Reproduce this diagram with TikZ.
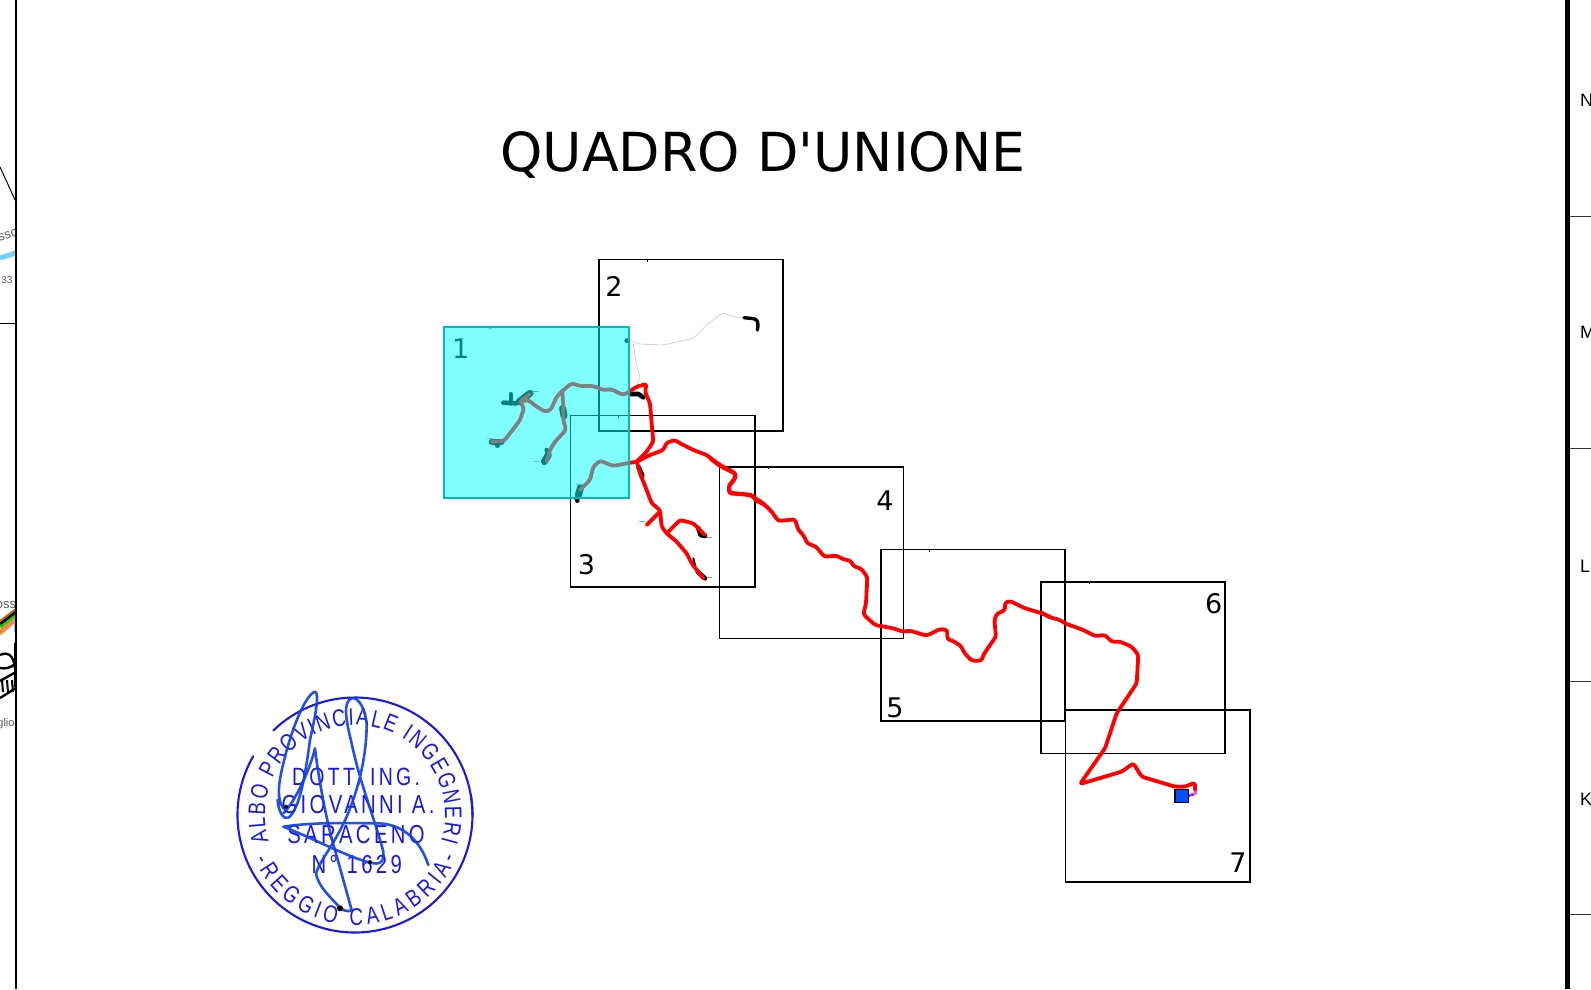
\documentclass[tikz,border=0pt]{standalone}
\usepackage{fontspec}
\setmainfont{DejaVu Sans}
\newfontfamily\plainf{DejaVu Sans}
\newfontfamily\arialf{Liberation Sans}
\newfontfamily\stampf[FakeStretch=.78]{Liberation Sans}
\newfontfamily\stampsp[FakeStretch=.78,LetterSpace=13]{Liberation Sans}
\usetikzlibrary{decorations.text}
\definecolor{stampblue}{RGB}{25,25,225}
\definecolor{signblue}{RGB}{20,65,225}
\tikzset{
  sheet/.style={draw=black,line width=1.6pt,fill=none},
  route/.style={draw={rgb,255:red,255;green,0;blue,0},line width=3.8pt,line join=round,line cap=round,rounded corners=2.5pt},
  under/.style={draw=black,line width=4.6pt,line cap=round,line join=round},
  thin trace/.style={draw=black!22,line width=.6pt,line join=round,rounded corners=2pt},
  signstroke/.style={draw=signblue,line width=2.6pt,line cap=round,line join=round,opacity=.92},
  stamp ring/.style={draw=stampblue,line width=2.1pt,line cap=round},
  stamp line/.style={text=stampblue,font=\stampsp\fontsize{26}{26}\selectfont,inner sep=0pt},
  num/.style={font=\fontsize{27}{27}\selectfont,inner sep=0pt,text=black},
  margintext/.style={font=\arialf\fontsize{13}{13}\selectfont,text=black!65,inner sep=0pt},
  gridletter/.style={font=\arialf\fontsize{18}{18}\selectfont,inner sep=0pt,anchor=west,text=black},
  z1/.style={shift={(430,250)},x=.33333pt,y=-.33333pt},
  z4/.style={shift={(1040,580)},x=.33333pt,y=-.33333pt},
  z6/.style={shift={(710,450)},x=.33333pt,y=-.33333pt},
  z2/.style={shift={(220,680)},x=.33333pt,y=-.33333pt},
}
\begin{document}
\begin{tikzpicture}[x=1pt,y=-1pt]
\useasboundingbox (0,0) rectangle (1591,989);
\fill[white] (0,0) rectangle (1591,989);
\begin{scope}
\clip (0,0) rectangle (16,989);
% left neighbouring sheet remnants
\draw[black,line width=1pt] (0,167) -- (16,202);
\draw[black,line width=1pt] (0,323) -- (16,323);
\draw[cyan!55,line width=5pt] (0,258) -- (16,253);
\node[margintext,rotate=17] (ssotxt) at (8,235) {sso};
\node[margintext,font=\arialf\fontsize{10}{10}\selectfont] (ntxt) at (7,280) {33};
\node[margintext] (osstxt) at (6,605) {oss};
\draw[orange!70!red!70,line width=3pt] (0,634) -- (16,620);
\draw[red!45!orange!70,line width=3pt] (0,631) -- (16,618);
\draw[green!85!black,line width=3pt] (0,627) -- (16,614.5);
\draw[black,line width=2.8pt] (0,624) -- (16,611.5);
\draw[orange!80!black,line width=2pt] (0,621) -- (16,609);
\draw[cyan!55,line width=1.5pt] (15,620) -- (15,632);
\draw[black,line width=2.4pt] (0,655) .. controls (8,651) and (14,656) .. (15,668);
\draw[black,line width=2.4pt] (0,668) .. controls (6,669) and (10,668) .. (15,664);
\draw[black,line width=2.4pt] (0,681) -- (16,672);
\draw[black,line width=2.4pt] (0,698) -- (16,688);
\foreach \tx in {2,7,12}{\draw[black,line width=2pt] (\tx,680) -- (\tx+1,692);}
\draw[black,line width=2pt] (15,643) -- (15,687);
\node[margintext,font=\arialf\fontsize{11}{11}\selectfont] (gliotxt) at (6,724) {glio};
\end{scope}
% frame
\draw[black,line width=1.5pt] (16,0) -- (16,989);
\draw[black,line width=4.6pt] (1567.7,0) -- (1567.7,989);
\foreach \ty in {216,448,681,914}{\draw[black!80,line width=.9pt] (1570,\ty) -- (1591,\ty);}
\node[gridletter] (gN) at (1580,100) {N};
\node[gridletter] (gM) at (1580,332) {M};
\node[gridletter] (gL) at (1580,566) {L};
\node[gridletter] (gK) at (1580,799) {K};
% title
\node[inner sep=0pt,font=\plainf\fontsize{53.8}{54}\selectfont] (title) at (763,155) {QUADRO D'UNIONE};
% sheets
\draw[sheet] (599,259.3) rectangle (783,431);
\draw[sheet] (570.3,415.3) rectangle (754.7,586.7);
\draw[sheet] (719.3,466.7) rectangle (903.3,638.3);
\draw[sheet] (881,549.3) rectangle (1065,721);
\draw[sheet] (1041,581.7) rectangle (1225,753.3);
\draw[sheet] (1065.3,710) rectangle (1249.7,881.8);
\foreach \ox/\oy in {647/259.3,618/415.3,768/466.7,929/549.3,1089/581.7,490/326.7}{\draw[black,line width=.8pt] (\ox,\oy) -- (\ox,\oy+2.5);}
\node[num] (n1) at (460.7,349) {1};
\node[num] (n2) at (614,286) {2};
\node[num] (n3) at (586.5,565) {3};
\node[num] (n4) at (885,501) {4};
\node[num] (n5) at (895,708) {5};
\node[num] (n6) at (1213.6,604) {6};
\node[num] (n7) at (1238,862.5) {7};
% network under-lays and traces
\begin{scope}[z1]
\draw[thin trace] (600,270) -- (625,282) -- (700,285) -- (790,265) -- (830,225) -- (878,188) -- (900,197) -- (940,203);
\draw[thin trace] (610,280) -- (618,340) -- (630,380) -- (622,400);
\draw[under,line width=3.4pt,rounded corners=3pt] (942,203) -- (980,207) -- (985,222) -- (982,240);
\fill[black] (590,272) circle (7);
\draw[under] (600,432) -- (625,432) -- (640,442);
\draw[under] (625,650) -- (637,677);
\draw[under] (805,835) -- (812,855) -- (825,858);
\draw[under] (803,965) -- (825,985);
\draw[under,line width=2pt] (790,925) -- (795,945);
\draw[under] (220,458) -- (260,460);
\draw[under] (243,433) -- (243,460);
\draw[under,line width=7pt] (268,455) -- (300,430);
\draw[under,line width=6pt] (185,575) -- (215,575);
\draw[under] (203,575) -- (203,587);
\draw[under,line width=7pt] (398,475) -- (402,498);
\draw[under,line width=7pt] (343,635) -- (355,615);
\draw[under] (350,600) -- (355,610);
\draw[under,line width=7pt] (445,735) -- (452,712);
\draw[under] (440,745) -- (442,752);
\foreach \gx/\gy in {310/425,172/565,310/635,438/702,627/814,830/861,830/982}
  {\draw[black!40,line width=.5pt] (\gx,\gy) -- (\gx+17,\gy);}
% network
\draw[route] (450,720) -- (480,690) -- (490,650) -- (510,632) -- (550,648) -- (590,640) -- (620,635);
\draw[route] (597,425) -- (580,435) -- (545,418) -- (520,420) -- (490,408) -- (450,408) -- (425,400) -- (400,420) -- (380,440) -- (362,480) -- (345,485) -- (320,470) -- (295,450) -- (270,455) -- (282,475) -- (270,510) -- (240,550) -- (222,573) -- (185,575);
\draw[route] (397,425) -- (400,470) -- (400,510) -- (408,540) -- (375,575) -- (360,600) -- (350,635);
\draw[route] (270,455) -- (300,432);
\draw[route] (597,425) -- (620,410) -- (650,402) -- (645,425) -- (660,460) -- (665,520) -- (670,575) -- (650,605) -- (620,635);
\draw[route] (620,635) -- (660,615) -- (700,600) -- (710,578) -- (735,570) -- (750,580) -- (790,600) -- (830,615) -- (870,645) -- (915,668) -- (915,685) -- (897,705) -- (897,730) -- (960,735) -- (1000,760) -- (1020,780);
\draw[route] (620,635) -- (630,670) -- (650,720) -- (665,760) -- (690,780) -- (695,830) -- (710,850) -- (740,875) -- (770,910) -- (785,940) -- (820,985);
\draw[route] (690,785) -- (650,825);
\draw[route] (710,850) -- (730,830) -- (750,810) -- (790,820) -- (825,855);
\end{scope}
\begin{scope}[z6]
\draw[route] (0,25) -- (30,48) -- (78,72) -- (75,88) -- (57,108) -- (58,128) -- (128,135) -- (135,150) -- (165,165) -- (185,185) -- (205,213) -- (255,208) -- (265,240) -- (280,255) -- (292,280) -- (318,290) -- (343,320) -- (380,317) -- (400,328) -- (422,332) -- (430,348) -- (455,357) -- (472,382) -- (468,460) -- (460,493) -- (495,525) -- (550,535) -- (578,545) -- (600,542) -- (650,557) -- (690,537) -- (712,540) -- (712,568) -- (730,573) -- (755,590) -- (760,605) -- (785,632) -- (815,632) -- (820,615) -- (840,585) -- (858,560) -- (853,510) -- (860,492) -- (885,480) -- (885,458) -- (900,453) -- (945,475) -- (990,488) -- (1020,500);
\end{scope}
\begin{scope}[z4]
\draw[draw={rgb,255:red,240;green,70;blue,255},line width=2.2pt] (447,645) -- (468,640) -- (466,628);
\draw[route] (5,98) -- (30,112) -- (60,120) -- (75,130) -- (130,150) -- (165,168) -- (195,165) -- (215,185) -- (240,185) -- (275,200) -- (295,225) -- (290,310) -- (230,400) -- (195,505) -- (120,612) -- (245,575) -- (280,550) -- (305,590) -- (405,620) -- (435,620) -- (465,608) -- (465,630);
\draw[draw=black,fill={rgb,255:red,0;green,80;blue,255},line width=1.5pt] (405,628) rectangle (445,668);
\draw[draw={rgb,255:red,130;green,30;blue,230},line width=1.6pt] (447,648) -- (462,644);
\end{scope}
% translucent sheet 1 on top of everything
\fill[fill={rgb,255:red,0;green,255;blue,255},fill opacity=.5] (444,326.7) rectangle (629,498.3);
\draw[draw={rgb,255:red,0;green,185;blue,185},line width=1.7pt] (444,326.7) rectangle (629,498.3);
% stamp
\begin{scope}[shift={(355,815)},y=1pt]
\draw[stamp ring] (150:117.5) arc[start angle=150,end angle=370,radius=117.5];
\draw[stamp ring] (134:117.5) arc[start angle=134,end angle=0,radius=117.5];
\path[postaction={decorate,decoration={text along path,text align=fit to path,
  text={|\stampf\fontsize{24}{24}\selectfont\color{stampblue}|ALBO PROVINCIALE INGEGNERI}}}]
  (197:90) arc[start angle=197,end angle=-17,radius=90];
\path[postaction={decorate,decoration={text along path,text align=fit to path,
  text={|\stampf\fontsize{24}{24}\selectfont\color{stampblue}|-REGGIO CALABRIA-}}}]
  (204:110) arc[start angle=204,end angle=337,radius=110];
\end{scope}
\node[stamp line,font=\stampsp\fontsize{25}{25}\selectfont] (st1) at (356,777) {DOTT. ING.};
\node[stamp line] (st2) at (358,805) {GIOVANNI A.};
\node[stamp line] (st3) at (356,835) {SARACENO};
\node[stamp line] (st4) at (356.7,865) {N° 1629};
\begin{scope}[z2]
\draw[signstroke] (190,385) .. controls (165,350) and (180,290) .. (195,230) .. controls (215,150) and (255,45) .. (285,35) .. controls (300,40) and (285,110) .. (270,180) .. controls (258,270) and (240,390) .. (205,413) .. controls (190,420) and (175,395) .. (173,360);
\draw[signstroke] (190,400) .. controls (225,365) and (270,270) .. (285,205) .. controls (295,290) and (320,430) .. (345,510) -- (395,690) .. controls (390,695) and (375,695) .. (362,685);
\draw[signstroke] (362,685) .. controls (330,650) and (295,620) .. (288,580) .. controls (300,540) and (340,500) .. (380,410) .. controls (410,340) and (440,240) .. (440,130) .. controls (435,85) and (415,50) .. (395,55) .. controls (370,65) and (375,110) .. (395,190) .. controls (420,310) and (465,420) .. (490,515) .. controls (495,555) and (470,555) .. (440,545) .. controls (370,525) and (280,475) .. (190,440) .. controls (290,425) and (400,430) .. (480,430) .. controls (550,435) and (600,480) .. (625,555);
\fill[black] (198,380) circle (6);
\fill[black] (360,685) circle (9);
\fill[black] (450,546) circle (6);
\end{scope}
\end{tikzpicture}
\end{document}
